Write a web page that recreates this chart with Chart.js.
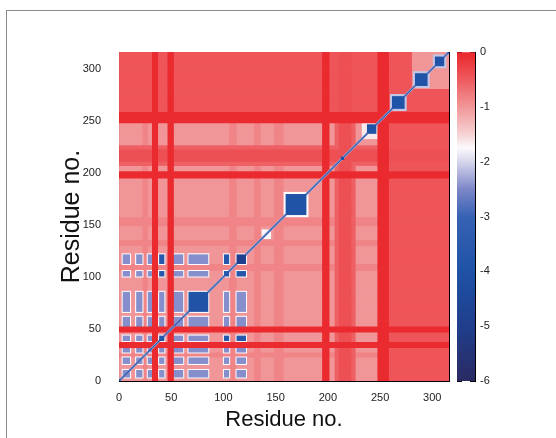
<!DOCTYPE html>
<html>
<head>
<meta charset="utf-8">
<script src="https://cdn.jsdelivr.net/npm/chart.js@4.4.1/dist/chart.umd.min.js"></script>
<style>
  html, body { margin: 0; padding: 0; background: #fff; }
  #wrap { position: relative; width: 556px; height: 438px; overflow: hidden; }
  #frame { position: absolute; left: 6px; top: 10px; width: 600px; height: 500px;
           border-left: 1px solid #8a8a8a; border-top: 1px solid #8a8a8a; }
  #map { position: absolute; left: 0; top: 0; }
  #bar { position: absolute; left: 440px; top: 0; }
</style>
</head>
<body>
<div id="wrap">
  <div id="frame"></div>
  <canvas id="map" width="556" height="438"></canvas>
  <canvas id="bar" width="116" height="438"></canvas>
</div>
<script>
// axis extent (residue no.)
const axisMax = 316;
const tickStep = 50;

// residue ranges (inclusive)
const brightBands = [[32, 36], [47, 51], [195, 200], [248, 257]];
const brightLevel = -0.05;

const domains = [[0, 247], [258, 279], [280, 316]];
const domainLevels = [-1.0, -0.45, -1.0];
const crossLevel = -0.45;

const stripeBands = [[23, 26], [106, 111], [130, 134], [149, 156], [207, 225], [211, 221]];
const stripeLevels = [-0.85, -0.85, -0.85, -0.85, -0.55, -0.4];

const helices = [[3, 10], [16, 22], [27, 31], [38, 43], [52, 61], [66, 85], [100, 105], [112, 121]];
const helixLevel = -2.45;
const coreHelices = [3, 6, 7];
const coreLevel = -3.6;
const haloLevel = -1.75;

const lightBlocks = [[136, 145], [157, 181], [232, 247], [259, 275], [281, 297], [300, 313]];
const lightLevels = [-1.75, -1.75, -1.65, -2.1, -2.1, -2.1];

const diagBlocks = [[38, 43], [66, 85], [100, 105], [112, 121], [159, 179], [237, 246], [261, 273], [283, 295], [302, 311], [212, 215]];
const diagLevels = [-3.7, -3.9, -3.6, -4.9, -3.9, -3.9, -3.9, -3.9, -3.9, -4.0];

// on the diagonal, one off, two off
const diagonalLevels = [-3.9, -3.6, -2.3];

// colour scale
const colorRange = [-6, 0];
const scaleValues = [0, -0.5, -1, -1.5, -1.75, -2, -2.5, -3, -4, -5, -6];
const scaleColors = [
  [233, 38, 42], [238, 90, 94], [241, 150, 152], [246, 210, 212], [252, 250, 252],
  [214, 214, 236], [125, 135, 200], [55, 98, 180], [30, 82, 165], [32, 62, 140], [42, 42, 98]
];

const inside = (v, r) => v >= r[0] && v <= r[1];
const near = (v, r) => v >= r[0] - 1 && v <= r[1] + 1;

function cellValue(i, j) {
  let v;
  if (brightBands.some(b => inside(i, b) || inside(j, b))) {
    v = brightLevel;
  } else {
    const di = domains.findIndex(d => inside(i, d));
    const dj = domains.findIndex(d => inside(j, d));
    v = (di === dj && di >= 0) ? domainLevels[di] : crossLevel;
    stripeBands.forEach((b, k) => {
      if (inside(i, b) || inside(j, b)) v = Math.max(v, stripeLevels[k]);
    });
    const hi = helices.findIndex(h => inside(i, h));
    const hj = helices.findIndex(h => inside(j, h));
    if (hi >= 0 && hj >= 0) {
      v = (coreHelices.includes(hi) && coreHelices.includes(hj)) ? coreLevel : helixLevel;
    } else if (v <= -0.8 && helices.some(h => near(i, h)) && helices.some(h => near(j, h))) {
      v = haloLevel;
    }
  }
  lightBlocks.forEach((b, k) => {
    if (inside(i, b) && inside(j, b)) v = lightLevels[k];
  });
  diagBlocks.forEach((b, k) => {
    if (inside(i, b) && inside(j, b)) v = diagLevels[k];
  });
  const d = Math.abs(i - j);
  if (d < diagonalLevels.length) v = Math.min(v, diagonalLevels[d]);
  return v;
}

function colorFor(v) {
  for (let k = 0; k < scaleValues.length - 1; k++) {
    const a = scaleValues[k], b = scaleValues[k + 1];
    if (v <= a && v >= b) {
      const t = (a - v) / (a - b);
      const c = scaleColors[k].map((c0, n) => Math.round(c0 + (scaleColors[k + 1][n] - c0) * t));
      return "rgb(" + c.join(",") + ")";
    }
  }
  return "rgb(" + scaleColors[0].join(",") + ")";
}

// run-length encode every row into floating bars, one dataset per level
const groups = new Map();
for (let j = 0; j < axisMax; j++) {
  let start = 0;
  let cur = cellValue(0, j);
  for (let i = 1; i <= axisMax; i++) {
    const v = i < axisMax ? cellValue(i, j) : null;
    if (v !== cur) {
      const key = cur.toFixed(2);
      if (!groups.has(key)) groups.set(key, []);
      groups.get(key).push({ x: [start, i], y: j + 0.5 });
      start = i;
      cur = v;
    }
  }
}

const datasets = [...groups.entries()]
  .sort((a, b) => +b[0] - +a[0])
  .map(([key, cells]) => ({
    data: cells,
    backgroundColor: colorFor(+key),
    borderWidth: 0,
    grouped: false,
    categoryPercentage: 1,
    barPercentage: 1,
    inflateAmount: 0.4
  }));

const tickFont = { family: "Liberation Sans", size: 11 };
const keepTicks = s => { s.ticks = s.ticks.filter(t => t.value % tickStep === 0); };
const frameGrid = { drawOnChartArea: false, tickLength: -5, color: "#000", tickColor: "#000", offset: false };
const frameBorder = { display: true, color: "#000", width: 1 };

new Chart(document.getElementById("map"), {
  type: "bar",
  data: { datasets },
  options: {
    indexAxis: "y",
    responsive: false,
    animation: false,
    events: [],
    layout: { padding: 0 },
    plugins: { legend: { display: false }, tooltip: { enabled: false } },
    scales: {
      x: {
        type: "linear", position: "bottom", min: 0, max: axisMax, offset: false,
        afterFit: s => { s.height = 57; },
        afterBuildTicks: keepTicks,
        ticks: { stepSize: tickStep, includeBounds: false, padding: 15, font: tickFont, color: "#222", maxRotation: 0, autoSkip: false },
        grid: frameGrid, border: frameBorder,
        title: { display: true, text: "Residue no.", color: "#111",
                 font: { family: "Liberation Sans", size: 22, lineHeight: 1 }, padding: { top: 0, bottom: 7 } }
      },
      x2: {
        type: "linear", position: "top", min: 0, max: axisMax, offset: false,
        afterFit: s => { s.height = 52; },
        afterBuildTicks: keepTicks,
        ticks: { stepSize: tickStep, includeBounds: false, display: false },
        grid: frameGrid, border: frameBorder
      },
      y: {
        type: "linear", position: "left", min: 0, max: axisMax, offset: false,
        afterFit: s => { s.width = 119; },
        afterBuildTicks: keepTicks,
        ticks: { stepSize: tickStep, includeBounds: false, padding: 23, font: tickFont, color: "#222", autoSkip: false },
        grid: frameGrid, border: frameBorder,
        title: { display: true, text: "Residue no.", color: "#111",
                 font: { family: "Liberation Sans", size: 25, lineHeight: 1 }, padding: { top: 60, bottom: 0 } }
      },
      y2: {
        type: "linear", position: "right", min: 0, max: axisMax, offset: false,
        afterFit: s => { s.width = 107; },
        afterBuildTicks: keepTicks,
        ticks: { stepSize: tickStep, includeBounds: false, display: false },
        grid: frameGrid, border: frameBorder
      }
    }
  }
});

// colour bar
function barGradient(chart) {
  const y = chart.scales.y;
  if (!y || !chart.chartArea) return "#888";
  const top = y.getPixelForValue(colorRange[1]);
  const bottom = y.getPixelForValue(colorRange[0]);
  const g = chart.ctx.createLinearGradient(0, top, 0, bottom);
  scaleValues.forEach((v, k) => {
    g.addColorStop((colorRange[1] - v) / (colorRange[1] - colorRange[0]), "rgb(" + scaleColors[k].join(",") + ")");
  });
  return g;
}

new Chart(document.getElementById("bar"), {
  type: "bar",
  data: {
    labels: [""],
    datasets: [{
      data: [colorRange],
      backgroundColor: c => barGradient(c.chart),
      borderWidth: 0,
      categoryPercentage: 1,
      barPercentage: 1
    }]
  },
  options: {
    responsive: false,
    animation: false,
    events: [],
    layout: { padding: { top: 52, bottom: 57, left: 0, right: 0 } },
    plugins: { legend: { display: false }, tooltip: { enabled: false } },
    scales: {
      x: { display: false },
      y: {
        type: "linear", position: "right", min: colorRange[0], max: colorRange[1],
        afterFit: s => { s.width = 81; },
        ticks: { stepSize: 1, padding: 10, font: tickFont, color: "#222" },
        grid: frameGrid, border: frameBorder
      },
      y2: {
        type: "linear", position: "left", min: colorRange[0], max: colorRange[1],
        afterFit: s => { s.width = 17; },
        ticks: { stepSize: 1, display: false },
        grid: frameGrid, border: frameBorder
      }
    }
  }
});
</script>
</body>
</html>
